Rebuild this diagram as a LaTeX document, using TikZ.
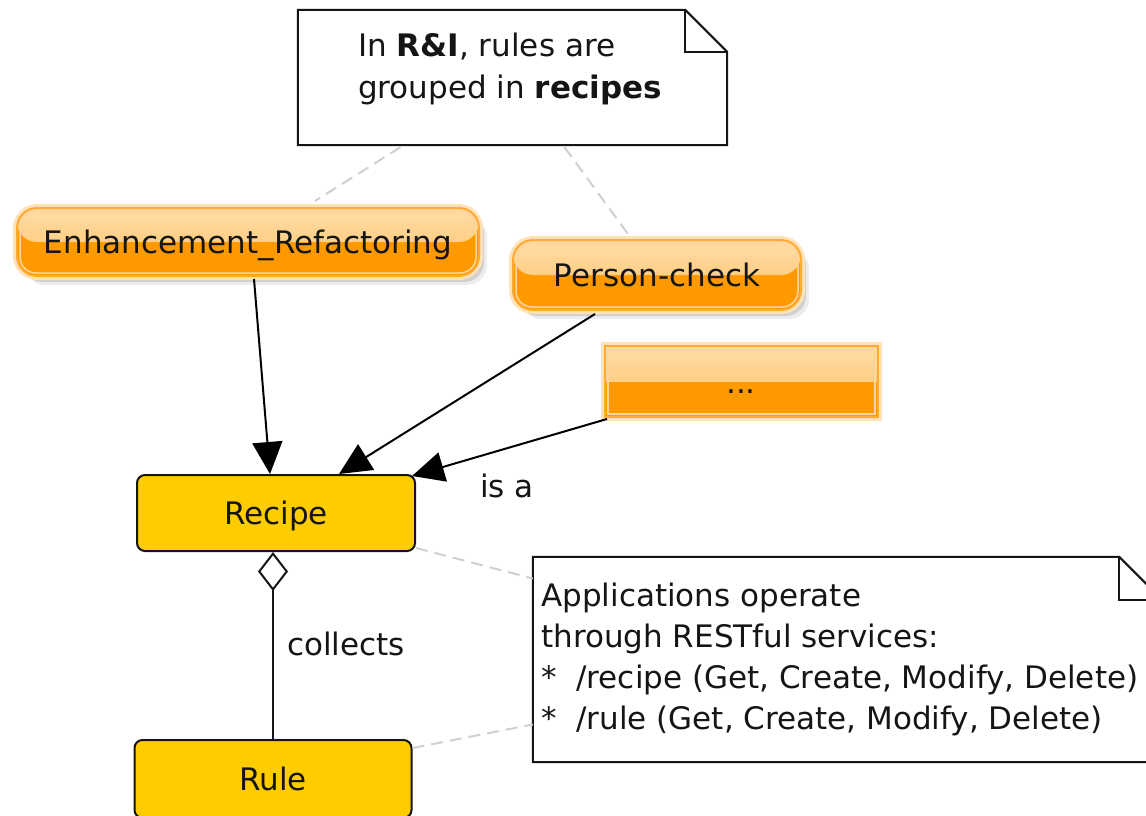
\documentclass[tikz,border=0pt]{standalone}
\usepackage{fontspec}
\setmainfont{DejaVu Sans}
\usetikzlibrary{arrows.meta,calc}

\definecolor{org}{HTML}{FF9900}
\definecolor{orgtop}{HTML}{FFDDA8}
\definecolor{orgmid}{HTML}{FFC061}
\definecolor{orgedge}{HTML}{FFAA33}
\definecolor{orginner}{HTML}{FFD59A}
\definecolor{orgglow}{HTML}{FFE2B8}
\definecolor{ylw}{HTML}{FFCC00}
\definecolor{dashgray}{HTML}{D0D0D0}
\definecolor{ink}{HTML}{151515}

\begin{document}
\begin{tikzpicture}[x=1pt,y=-1pt,
  txt/.style={font=\fontsize{31}{38}\selectfont, text=ink},
  tagbase/.style={txt, fill=org, draw=orgedge, line width=2pt,
    text height=22pt, text depth=0pt, inner sep=0pt,
    path picture={\shade[top color=orgtop, bottom color=orgmid] (path picture bounding box.north west) rectangle (path picture bounding box.east);}},
  glow/.style={preaction={draw=orgglow, line width=8pt}},
  softshadow/.style={
    preaction={fill=black, opacity=0.07, transform canvas={shift={(8pt,-9pt)}}},
    preaction={fill=black, opacity=0.12, transform canvas={shift={(5pt,-6pt)}}}},
  tagbox/.style={tagbase, rounded corners=20pt, softshadow, glow},
  flatbox/.style={tagbase, glow},
  innerline/.style={draw=orginner, line width=1.5pt},
  classbox/.style={txt, fill=ylw, draw=ink, line width=2pt, rounded corners=8pt,
    text height=22pt, text depth=0pt, inner sep=0pt},
  notearea/.style={draw=none, inner sep=0pt},
  noteline/.style={draw=ink, line width=2pt, line join=miter},
  lbl/.style={txt, anchor=base west, inner sep=0pt},
  isa/.style={draw=black, line width=2pt, -{Triangle[length=32pt,width=30pt]}},
  agg/.style={draw=ink, line width=2pt, {Diamond[open,length=39pt,width=30pt,line width=2pt]}-},
  anchorline/.style={draw=dashgray, line width=2pt, dash pattern=on 12pt off 7pt}
]
\useasboundingbox (0,0) rectangle (1146,816);
\clip (0,0) rectangle (1146,816);
\fill[white] (0,0) rectangle (1146,816);

% notes (areas)
\node[notearea, minimum width=429pt, minimum height=135pt] (n1) at (512.5,77.5) {};
\node[notearea, minimum width=629pt, minimum height=205pt] (n2) at (847.5,659.5) {};

% note 1 shape
\filldraw[noteline, fill=white] (n1.north west) -- ($(n1.north east)+(-42pt,0pt)$) -- ($(n1.north east)+(0pt,-42pt)$) -- (n1.south east) -- (n1.south west) -- cycle;
\draw[noteline] ($(n1.north east)+(-42pt,0pt)$) -- ($(n1.north east)+(-42pt,-42pt)$) -- ($(n1.north east)+(0pt,-42pt)$);
\node[lbl] (n1a) at (358,57) {In \textbf{R\&I}, rules are};
\node[lbl] (n1b) at (358,99) {grouped in \textbf{recipes}};

% note 2 shape
\filldraw[noteline, fill=white] (n2.north west) -- ($(n2.north east)+(-43pt,0pt)$) -- ($(n2.north east)+(0pt,-43pt)$) -- (n2.south east) -- (n2.south west) -- cycle;
\draw[noteline] ($(n2.north east)+(-43pt,0pt)$) -- ($(n2.north east)+(-43pt,-43pt)$) -- ($(n2.north east)+(0pt,-43pt)$);
\node[lbl] (n2a) at (541,606) {Applications operate};
\node[lbl] (n2b) at (541,647) {through RESTful services:};
\node[lbl] (n2c) at (541,688) {* \ /recipe (Get, Create, Modify, Delete)};
\node[lbl] (n2d) at (541,729) {* \ /rule (Get, Create, Modify, Delete)};

% tag boxes
\node[tagbox, minimum width=462pt, minimum height=68pt] (enh) at (248,242) {Enhancement\_Refactoring};
\draw[innerline, rounded corners=16pt] ([shift={(4pt,-4pt)}]enh.north west) rectangle ([shift={(-4pt,4pt)}]enh.south east);
\node[tagbox, minimum width=288pt, minimum height=70pt] (pc) at (657,275) {Person-check};
\draw[innerline, rounded corners=16pt] ([shift={(4pt,-4pt)}]pc.north west) rectangle ([shift={(-4pt,4pt)}]pc.south east);
\node[flatbox, minimum width=273pt, minimum height=71pt] (dots) at (741.5,381.5) {};
\draw[innerline] ([shift={(4pt,-4pt)}]dots.north west) rectangle ([shift={(-4pt,4pt)}]dots.south east);
\node[txt, inner sep=0pt, anchor=base] (dotst) at (741,393) {...};

% classes
\node[classbox, minimum width=278pt, minimum height=76pt] (recipe) at (276,513) {Recipe};
\node[classbox, minimum width=277pt, minimum height=78pt] (rule) at (273,779) {Rule};

% dashed anchors
\draw[anchorline] ([xshift=-112pt,yshift=-2pt]n1.south) -- ([xshift=67pt,yshift=6pt]enh.north);
\draw[anchorline] ([xshift=52pt,yshift=-2pt]n1.south) -- ([xshift=-29pt,yshift=5pt]pc.north);
\draw[anchorline] ([yshift=4pt]recipe.south east) -- ([yshift=81pt]n2.west);
\draw[anchorline] ([yshift=31pt]rule.east) -- ([yshift=-65pt]n2.west);

% generalisations
\draw[isa] ([xshift=6pt,yshift=-2pt]enh.south) -- ([xshift=-6pt]recipe.north);
\draw[isa] ([xshift=-62pt,yshift=-3pt]pc.south) -- ([xshift=63pt]recipe.north);
\draw[isa] ([xshift=3pt,yshift=-1pt]dots.south west) -- ([xshift=-4pt,yshift=-2pt]recipe.north east);
\node[lbl] (isalbl) at (480,497) {is a};

% aggregation
\draw[agg] (rule.north |- recipe.south) -- (rule.north);
\node[lbl] (collbl) at (287,655) {collects};
\end{tikzpicture}
\end{document}
